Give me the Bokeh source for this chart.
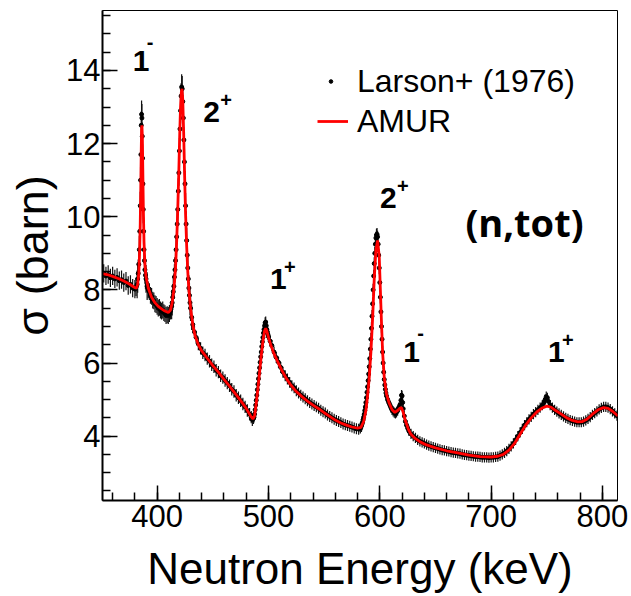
from bokeh.plotting import figure
from bokeh.models import Range1d, SingleIntervalTicker, Legend, LegendItem, ColumnDataSource, Label
from bokeh.embed import file_html
from bokeh.resources import INLINE

# ---------------- AMUR fit curve (keV, barn) ----------------
amur_E = [350, 355, 360, 365, 370, 375, 378, 380, 381.5, 382.5, 383.5, 384.2, 384.8, 385.3,
          385.7, 386.0, 386.3, 386.7, 387.1, 387.6, 388.2, 389, 390, 392, 395, 398, 401, 404,
          407, 410, 412, 413.5, 415, 416.5, 417.5, 418.5, 419.5, 420.3, 421, 421.7, 422.3, 423,
          423.8, 424.6, 425.5, 426.5, 427.5, 428.5, 430, 432, 434, 437, 440, 445, 450, 455, 460,
          465, 470, 475, 480, 484, 486, 487.5, 489, 490.5, 492, 493.5, 495, 496.5, 497.5, 498.5,
          500, 502, 505, 508, 512, 516, 520, 525, 530, 535, 540, 545, 550, 555, 560, 565, 570,
          575, 580, 583, 585.5, 587.5, 589, 590.5, 592, 593.5, 595, 596.5, 598, 599.5, 600.5,
          601.5, 602.5, 604, 606, 608.5, 611, 613.5, 616, 618, 619.5, 621, 623, 625.5, 628, 632,
          637, 642, 650, 660, 670, 680, 690, 700, 706, 711, 716, 721, 726, 731, 736, 741, 746,
          750, 754, 758, 763, 768, 773, 778, 782, 786, 791, 796, 801, 805, 809, 814]
amur_sigma = [8.45, 8.42, 8.37, 8.31, 8.24, 8.16, 8.10, 8.06, 8.05, 8.15, 8.45, 9.0, 9.8, 10.8,
              11.8, 12.4, 12.5, 12.2, 11.3, 10.2, 9.3, 8.7, 8.35, 8.05, 7.8, 7.65, 7.55, 7.48,
              7.42, 7.38, 7.45, 7.65, 8.0, 8.6, 9.3, 10.2, 11.3, 12.3, 13.0, 13.4, 13.5, 13.2,
              12.3, 11.2, 10.1, 9.2, 8.5, 8.0, 7.5, 7.05, 6.75, 6.5, 6.33, 6.13, 5.93, 5.75, 5.55,
              5.37, 5.17, 4.97, 4.76, 4.55, 4.47, 4.55, 4.9, 5.3, 5.75, 6.2, 6.6, 6.88, 6.95, 6.88,
              6.7, 6.5, 6.25, 6.05, 5.8, 5.58, 5.4, 5.22, 5.08, 4.96, 4.85, 4.75, 4.64, 4.54, 4.44,
              4.36, 4.3, 4.25, 4.22, 4.24, 4.4, 4.7, 5.1, 5.6, 6.3, 7.2, 8.3, 9.1, 9.35, 8.9, 8.0,
              7.1, 6.3, 5.6, 5.15, 4.9, 4.72, 4.65, 4.7, 4.76, 4.78, 4.65, 4.42, 4.2, 4.05, 3.93,
              3.83, 3.76, 3.68, 3.6, 3.54, 3.48, 3.44, 3.43, 3.45, 3.5, 3.62, 3.8, 4.05, 4.3, 4.5,
              4.66, 4.77, 4.82, 4.79, 4.7, 4.6, 4.5, 4.43, 4.39, 4.4, 4.46, 4.6, 4.72, 4.78, 4.76,
              4.68, 4.55]

# ---------------- Larson+ (1976) data (keV, barn) ----------------
larson_E = [350, 352, 354, 356, 358, 360, 362, 364, 366, 368, 370, 372, 374, 376, 378, 380, 381,
            382, 382.5, 383, 383.5, 384, 384.4, 384.8, 385.1, 385.4, 385.7, 386.0, 386.3, 386.6,
            386.9, 387.2, 387.5, 387.8, 388.2, 388.6, 389, 389.5, 390, 391, 392,
            393, 394, 395, 396, 397, 398, 399, 400, 401, 402, 403, 404, 405, 406, 407, 408, 409,
            410, 411, 412,
            413, 413.5, 414, 414.5, 415, 415.5, 416, 416.5, 417, 417.5, 418, 418.5, 419, 419.5,
            420, 420.5, 421, 421.5, 422, 422.5, 423, 423.5, 424, 424.5, 425, 425.5, 426, 426.5,
            427, 427.5, 428, 428.5, 429, 429.5, 430, 431, 432,
            433.5, 435, 437, 439, 441, 443, 445, 447, 449, 451, 453, 455, 457, 459, 461, 463, 465,
            467, 469, 471, 473, 475, 477, 479, 481, 483, 484.5, 485.5, 486.5,
            487, 487.5, 488, 488.5, 489, 489.5, 490, 490.5, 491, 491.5, 492, 492.5, 493, 493.5,
            494, 494.5, 495, 495.5, 496, 496.5, 497, 497.5, 498, 498.5, 499, 499.5, 500,
            501.5, 503, 505, 507, 509, 511, 513, 515, 517, 519, 521, 523, 525, 527, 529, 531, 533,
            535, 537, 539, 541, 543, 545, 547, 549, 551, 553, 555, 557, 559, 561, 563, 565, 567,
            569, 571, 573, 575, 577, 579, 581, 582.5,
            583.5, 584, 584.5, 585, 585.5, 586, 586.5, 587, 587.5, 588, 588.5, 589, 589.5, 590,
            590.5, 591, 591.5, 592, 592.5, 593, 593.5, 594, 594.5, 595, 595.5, 596, 596.5, 597,
            597.5, 598, 598.5, 599, 599.5, 600, 600.5, 601, 601.5, 602, 602.5, 603, 603.5, 604,
            604.5, 605, 605.5, 606,
            607, 608, 609, 610, 611, 612, 613, 614, 615, 616, 617, 618, 619, 619.5, 620, 620.5,
            621, 622, 623, 624, 625, 626,
            628, 630, 632, 634, 636, 638, 640, 642, 644, 646, 648, 650, 652, 654, 656, 658, 660,
            662, 664, 666, 668, 670, 672, 674, 676, 678, 680, 682, 684, 686, 688, 690, 692, 694,
            696, 698, 700, 702, 704, 706, 708, 710,
            712, 714, 716, 718, 720, 722, 724, 726, 728, 730, 732, 734, 736, 738, 740, 742, 744,
            746, 747.5, 748.5, 749.5, 750.5, 751.5, 753,
            755, 757, 759, 761, 763, 765, 767, 769, 771, 773, 775, 777, 779, 781, 783, 785, 787,
            789, 791, 793, 795, 797, 799, 801, 803, 805, 807, 809, 811, 813]
larson_sigma = [8.40, 8.45, 8.38, 8.42, 8.33, 8.38, 8.30, 8.34, 8.25, 8.28, 8.20, 8.24, 8.12,
                8.15, 8.05, 8.02, 8.08,
                8.15, 8.3, 8.45, 8.7, 9.1, 9.6, 10.3, 11.0, 11.7, 12.5, 12.8, 12.7, 12.2, 11.6,
                10.9, 10.2, 9.6, 9.1, 8.8, 8.55, 8.4, 8.3, 8.1, 8.0,
                7.95, 7.85, 7.82, 7.72, 7.7, 7.62, 7.6, 7.55, 7.5, 7.52, 7.45, 7.42, 7.45, 7.38,
                7.35, 7.3, 7.32, 7.3, 7.35, 7.42,
                7.55, 7.65, 7.8, 7.95, 8.1, 8.35, 8.55, 8.8, 9.1, 9.45, 9.8, 10.2, 10.7, 11.2,
                11.8, 12.4, 12.9, 13.3, 13.55, 13.5, 13.15, 12.7, 12.1, 11.5, 10.9, 10.3, 9.8,
                9.35, 8.95, 8.6, 8.3, 8.05, 7.85, 7.65, 7.5, 7.25, 7.05,
                6.85, 6.7, 6.52, 6.4, 6.28, 6.22, 6.12, 6.05, 5.95, 5.9, 5.8, 5.75, 5.65, 5.6,
                5.52, 5.45, 5.38, 5.28, 5.22, 5.12, 5.05, 4.97, 4.88, 4.8, 4.7, 4.6, 4.52, 4.45,
                4.48,
                4.52, 4.6, 4.72, 4.85, 4.98, 5.12, 5.27, 5.42, 5.57, 5.72, 5.87, 6.02, 6.17, 6.3,
                6.45, 6.58, 6.7, 6.82, 6.92, 7.02, 7.1, 7.12, 7.02, 6.92, 6.85, 6.78, 6.72,
                6.6, 6.48, 6.3, 6.15, 6.02, 5.88, 5.75, 5.65, 5.56, 5.47, 5.38, 5.32, 5.24, 5.18,
                5.12, 5.07, 5.02, 4.97, 4.92, 4.88, 4.84, 4.8, 4.76, 4.71, 4.67, 4.63, 4.58, 4.54,
                4.5, 4.46, 4.43, 4.4, 4.37, 4.33, 4.31, 4.29, 4.27, 4.25, 4.22, 4.2, 4.19, 4.22,
                4.28, 4.33, 4.38, 4.45, 4.52, 4.6, 4.7, 4.8, 4.92, 5.05, 5.2, 5.35, 5.52, 5.7,
                5.9, 6.12, 6.38, 6.65, 6.95, 7.28, 7.62, 8.0, 8.38, 8.72, 9.0, 9.25, 9.42, 9.5,
                9.52, 9.45, 9.25, 8.95, 8.6, 8.2, 7.8, 7.4, 7.0, 6.65, 6.3, 6.0, 5.75, 5.55,
                5.4, 5.28, 5.18, 5.1,
                5.0, 4.92, 4.85, 4.78, 4.72, 4.68, 4.64, 4.62, 4.65, 4.7, 4.78, 4.85, 4.98, 5.12,
                5.1, 4.92, 4.75, 4.55, 4.4, 4.3, 4.22, 4.15,
                4.06, 4.0, 3.95, 3.9, 3.86, 3.83, 3.8, 3.77, 3.74, 3.72, 3.7, 3.68, 3.66, 3.64,
                3.62, 3.61, 3.59, 3.58, 3.56, 3.55, 3.54, 3.53, 3.52, 3.5, 3.49, 3.48, 3.47, 3.46,
                3.45, 3.44, 3.44, 3.43, 3.42, 3.42, 3.42, 3.41, 3.42, 3.42, 3.43, 3.44, 3.47, 3.5,
                3.54, 3.59, 3.65, 3.72, 3.8, 3.9, 4.0, 4.1, 4.2, 4.3, 4.38, 4.46, 4.53, 4.6, 4.66,
                4.72, 4.78, 4.85, 4.92, 5.0, 5.08, 5.05, 4.95, 4.85,
                4.78, 4.72, 4.67, 4.62, 4.58, 4.54, 4.5, 4.47, 4.44, 4.42, 4.4, 4.38, 4.38, 4.38,
                4.4, 4.43, 4.47, 4.52, 4.58, 4.63, 4.68, 4.73, 4.77, 4.8, 4.8, 4.78, 4.74, 4.68,
                4.62, 4.56]

# uncertainty level of the data, by energy band (band starts, keV) and size (barn)
err_band_start = [350, 382, 392, 413, 432, 486.5, 583, 607]
err_band_size = [0.25, 0.38, 0.23, 0.35, 0.17, 0.15, 0.17, 0.14]

# ---------------- annotations ----------------
jpi_number = ["1", "2", "1", "2", "1", "1"]
jpi_parity = ["-", "+", "+", "+", "-", "+"]
jpi_E = [378.0, 441.5, 501.4, 600.2, 621.1, 751.1]
jpi_sigma = [14.25, 12.86, 8.3, 10.52, 6.31, 6.31]

x_tick_step = 100
y_tick_step = 2

FONT = "Liberation Sans"


def band_error(e):
    size = err_band_size[0]
    for start, s in zip(err_band_start, err_band_size):
        if e >= start:
            size = s
    return size


larson_err = [band_error(e) for e in larson_E]
data_src = ColumnDataSource(dict(
    E=larson_E, sigma=larson_sigma,
    lo=[s - d for s, d in zip(larson_sigma, larson_err)],
    hi=[s + d for s, d in zip(larson_sigma, larson_err)],
))
fit_src = ColumnDataSource(dict(E=amur_E, sigma=amur_sigma))

p = figure(width=631, height=596, output_backend="svg", toolbar_location=None,
           x_range=Range1d(350.9, 813.5), y_range=Range1d(2.24, 15.64),
           min_border_left=102, min_border_right=14, min_border_top=10, min_border_bottom=96)
p.background_fill_color = "white"
p.border_fill_color = "white"
p.xgrid.visible = False
p.ygrid.visible = False
p.outline_line_color = "black"
p.outline_line_width = 1

p.segment(x0="E", y0="lo", x1="E", y1="hi", source=data_src, line_color="#111111",
          line_width=1.2)
dots = p.scatter(x="E", y="sigma", source=data_src, size=4, color="black")
fit = p.line(x="E", y="sigma", source=fit_src, line_color="#ff0000", line_width=2.8)

# axes
p.xaxis.ticker = SingleIntervalTicker(interval=x_tick_step, num_minor_ticks=5)
p.yaxis.ticker = SingleIntervalTicker(interval=y_tick_step, num_minor_ticks=4)
for ax in (p.xaxis, p.yaxis):
    ax.major_tick_in = 15
    ax.major_tick_out = 0
    ax.minor_tick_in = 8
    ax.minor_tick_out = 0
    ax.axis_line_width = 2
    ax.major_tick_line_width = 1.5
    ax.minor_tick_line_width = 1.5
    ax.axis_line_color = "black"
    ax.major_label_text_font = FONT
    ax.major_label_text_font_size = "31px"
    ax.major_label_text_color = "black"
    ax.axis_label_text_font = FONT
    ax.axis_label_text_font_size = "44px"
    ax.axis_label_text_font_style = "normal"
    ax.axis_label_text_color = "black"
p.xaxis.axis_label = "Neutron Energy (keV)"
p.yaxis.axis_label = "σ (barn)"
p.yaxis.axis_label_text_font_size = "45px"
p.xaxis.major_label_standoff = 4
p.yaxis.major_label_standoff = 2
p.xaxis.axis_label_standoff = 14
p.yaxis.axis_label_standoff = 5

# legend: two single-item legends so the data marker stays a small dot
legend_common = dict(label_text_font=FONT, label_text_font_size="32px",
                     label_text_color="black", label_height=40, glyph_height=40,
                     spacing=0, padding=0, margin=0,
                     border_line_alpha=0, background_fill_alpha=0)
leg_data = Legend(items=[LegendItem(label="Larson+ (1976)", renderers=[dots])],
                  location=(224, 399), glyph_width=9, label_standoff=22, **legend_common)
leg_fit = Legend(items=[LegendItem(label="AMUR", renderers=[fit])],
                 location=(215, 359), glyph_width=31, label_standoff=9, **legend_common)
p.add_layout(leg_data)
p.add_layout(leg_fit)

# resonance spin-parity labels
for num, par, e, s in zip(jpi_number, jpi_parity, jpi_E, jpi_sigma):
    p.add_layout(Label(x=e, y=s, text=num, text_font=FONT, text_font_style="bold",
                       text_font_size="30px", text_baseline="alphabetic", text_color="black"))
    dx = 14 if num == "1" else 17
    dy = 19 if par == "-" else 12
    p.add_layout(Label(x=e, y=s, x_offset=dx, y_offset=dy, text=par, text_font=FONT,
                       text_font_style="bold", text_font_size="20px",
                       text_baseline="alphabetic", text_color="black"))

p.add_layout(Label(x=676.9, y=9.85, text="(n,tot)", text_font="Open Sans",
                   text_font_style="bold", text_font_size="38px",
                   text_baseline="alphabetic", text_color="black"))

open("out.html", "w").write(file_html(p, INLINE))
